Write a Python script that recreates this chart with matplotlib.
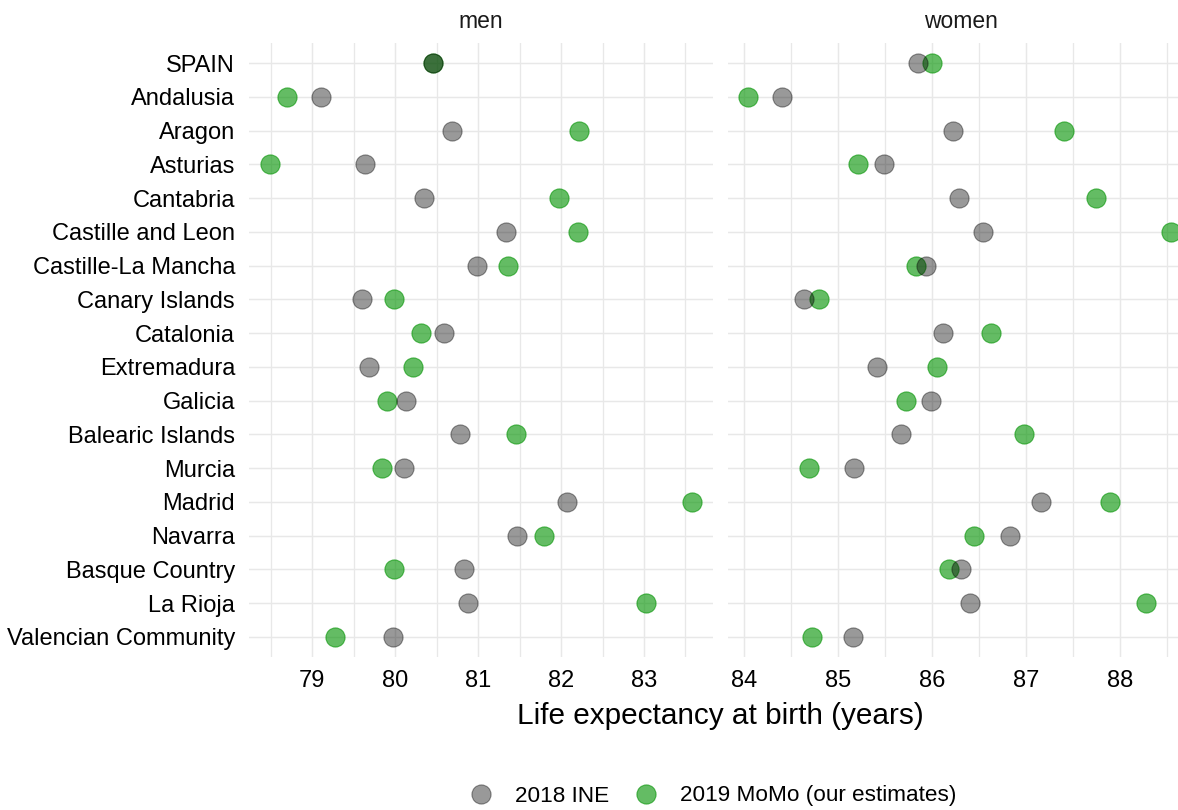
import matplotlib
matplotlib.use("Agg")
import matplotlib.pyplot as plt
from matplotlib.ticker import MultipleLocator
from matplotlib.lines import Line2D

plt.rcParams['font.family'] = ['Liberation Sans', 'DejaVu Sans']

regions = ["SPAIN", "Andalusia", "Aragon", "Asturias", "Cantabria",
           "Castille and Leon", "Castille-La Mancha", "Canary Islands",
           "Catalonia", "Extremadura", "Galicia", "Balearic Islands",
           "Murcia", "Madrid", "Navarra", "Basque Country", "La Rioja",
           "Valencian Community"]

men_ine_2018 = [80.45, 79.11, 80.69, 79.63, 80.35, 81.33, 80.99, 79.60, 80.59,
                79.69, 80.13, 80.78, 80.11, 82.07, 81.47, 80.83, 80.88, 79.97]
men_momo_2019 = [80.45, 78.69, 82.22, 78.49, 81.97, 82.21, 81.36, 79.99, 80.31,
                 80.21, 79.90, 81.46, 79.84, 83.58, 81.79, 79.99, 83.02, 79.27]
women_ine_2018 = [85.85, 84.41, 86.22, 85.49, 86.29, 86.54, 85.94, 84.64, 86.12,
                  85.42, 85.99, 85.67, 85.17, 87.16, 86.83, 86.31, 86.41, 85.16]
women_momo_2019 = [86.00, 84.05, 87.40, 85.22, 87.74, 88.54, 85.83, 84.80, 86.63,
                   86.06, 85.72, 86.98, 84.69, 87.89, 86.45, 86.18, 88.28, 84.73]

panel_titles = ["men", "women"]
legend_labels = ["2018 INE", "2019 MoMo (our estimates)"]
x_title = "Life expectancy at birth (years)"

W, H = 1178, 810
fig = plt.figure(figsize=(W / 100, H / 100), dpi=100)

GRAY = (0, 0, 0, 0.4)
GREEN = (0.02, 0.58, 0.02, 0.62)
FS = 17.0
S = 190

panel_top, panel_bot = 43, 657
panels = [
    dict(left=249, right=713, xlim=(78.237, 83.832), ine=men_ine_2018, momo=men_momo_2019),
    dict(left=728, right=1193, xlim=(83.833, 88.776), ine=women_ine_2018, momo=women_momo_2019),
]

ypos = list(range(len(regions)))
for i, p in enumerate(panels):
    ax = fig.add_axes([p['left'] / W, 1 - panel_bot / H,
                       (p['right'] - p['left']) / W, (panel_bot - panel_top) / H])
    ax.set_xlim(*p['xlim'])
    ax.set_ylim(len(regions) - 0.4, -0.6)
    ax.xaxis.set_major_locator(MultipleLocator(1))
    ax.xaxis.set_minor_locator(MultipleLocator(0.5))
    ax.set_yticks(ypos)
    ax.grid(True, which='major', color='#e8e8e8', linewidth=1.05)
    ax.grid(True, which='minor', axis='x', color='#e8e8e8', linewidth=0.95)
    ax.set_axisbelow(True)
    for sp in ax.spines.values():
        sp.set_visible(False)
    ax.tick_params(which='both', length=0)
    ax.tick_params(axis='x', labelsize=FS, pad=9.5, labelcolor='black')
    ax.tick_params(axis='y', labelsize=FS, pad=10, labelcolor='black')
    if i == 0:
        ax.set_yticklabels(regions)
    else:
        ax.set_yticklabels([])
    ax.scatter(p['momo'], ypos, s=S, color=GREEN, edgecolors=GREEN,
               linewidths=0.8, clip_on=False, zorder=3)
    ax.scatter(p['ine'], ypos, s=S, color=GRAY, edgecolors=GRAY,
               linewidths=0.8, clip_on=False, zorder=4)
    cx = (p['left'] + p['right']) / 2 / W
    fig.text(cx, 1 - 28.5 / H, panel_titles[i], ha='center', va='baseline',
             fontsize=16.5, color='#1a1a1a')

fig.text(720 / W, 1 - 724 / H, x_title, ha='center', va='baseline',
         fontsize=21.4, color='black')

handles = [Line2D([], [], linestyle='none', marker='o', markersize=13.8,
                  markerfacecolor=GRAY, markeredgecolor=GRAY, markeredgewidth=0.8),
           Line2D([], [], linestyle='none', marker='o', markersize=13.8,
                  markerfacecolor=GREEN, markeredgecolor=GREEN, markeredgewidth=0.8)]
fig.legend(handles, legend_labels, loc='center', bbox_to_anchor=(713 / W, 1 - 796 / H),
           ncol=2, frameon=False, fontsize=16.2, handlelength=1.0,
           handletextpad=1.05, columnspacing=1.1, borderpad=0, borderaxespad=0)

fig.savefig("out.png", dpi=100)
